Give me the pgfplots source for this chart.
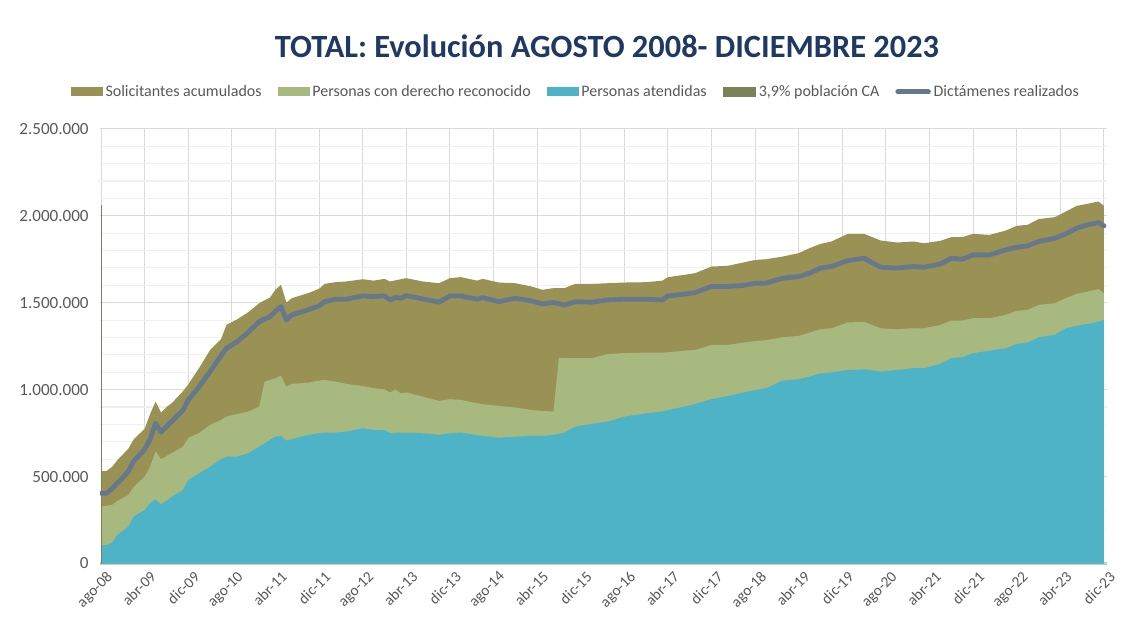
\documentclass[border=0pt]{standalone}
\usepackage{pgfplots}
\pgfplotsset{compat=1.18}
\usepackage{fontspec}
\setmainfont{Carlito}
\definecolor{solc}{HTML}{9A9155}
\definecolor{derc}{HTML}{A7B97F}
\definecolor{atec}{HTML}{4FB3C8}
\definecolor{pobc}{HTML}{7A8057}
\definecolor{dicc}{HTML}{66788C}
\definecolor{titc}{HTML}{1F3864}
\definecolor{txtc}{HTML}{595959}
\definecolor{gridc}{HTML}{D9D9D9}
\definecolor{mgridc}{HTML}{F0F0F0}
\definecolor{axc}{HTML}{BACFD5}
\begin{document}
\begin{tikzpicture}
\path[use as bounding box, fill=white] (0pt,0pt) rectangle (846pt,468.75pt);
\node[font=\fontsize{24.3}{28}\selectfont\bfseries, text=titc] at (455.25pt,434.25pt) {TOTAL: Evolución AGOSTO 2008- DICIEMBRE 2023};
\begin{axis}[
  at={(75pt,46.125pt)}, anchor=south west,
  scale only axis, width=755pt, height=326pt,
  xmin=-0.2, xmax=184.5, ymin=0, ymax=2500,
  axis lines*=left,
  y axis line style={draw=none},
  x axis line style={draw=axc, line width=1.6pt},
  major tick length=0pt, minor tick length=0pt,
  xtick={0,8,...,184},
  xticklabels={ago-08,abr-09,dic-09,ago-10,abr-11,dic-11,ago-12,abr-13,dic-13,ago-14,abr-15,dic-15,ago-16,abr-17,dic-17,ago-18,abr-19,dic-19,ago-20,abr-21,dic-21,ago-22,abr-23,dic-23},
  ytick={0,500,...,2500},
  yticklabels={0,500.000,1.000.000,1.500.000,2.000.000,2.500.000},
  minor y tick num=4,
  xmajorgrids, ymajorgrids, yminorgrids,
  major grid style={draw=gridc, line width=0.8pt},
  minor grid style={draw=mgridc, line width=0.8pt},
  yticklabel style={font=\fontsize{12.8}{14}\selectfont, text=txtc, xshift=-5pt},
  xticklabel style={font=\fontsize{11.5}{13}\selectfont, text=txtc, rotate=45, anchor=north east, inner sep=1pt, yshift=-5pt},
  legend columns=5,
  legend style={at={(0.473,1.085)}, anchor=center, draw=none, fill=none,
    font=\fontsize{12}{14}\selectfont, text=txtc,
    /tikz/every even column/.append style={column sep=10pt}},
  legend cell align=left,
]
\addplot[fill=solc, draw=none, area legend,
  legend image code/.code={\fill[solc] (0pt,-3.4pt) rectangle (24pt,3.4pt);}]
coordinates {
(0,532) (1,532) (2,555) (3,595) (5,660) (6,715) (8,775) (9,860) (10,931) (11,868) (12,900) (13,923)
(15,990) (16,1030) (18,1125) (20,1228) (22,1290) (23,1372) (25,1405) (27,1445) (29,1497) (31,1530)
(32,1575) (33,1603) (34,1501) (35,1526) (38,1555) (40,1580) (41,1608) (43,1618) (45,1622) (48,1635)
(50,1627) (52,1637) (53,1622) (55,1635) (56,1641) (59,1622) (62,1612) (64,1641) (66,1647) (69,1627)
(70,1637) (73,1616) (76,1612) (79,1593) (81,1574) (83,1584) (85,1584) (87,1608) (90,1608) (93,1612)
(96,1616) (100,1618) (103,1627) (104,1647) (107,1660) (109,1670) (112,1708) (115,1712) (120,1746)
(122,1750) (125,1765) (128,1785) (130,1814) (132,1838) (134,1852) (137,1896) (140,1896) (143,1858)
(146,1846) (149,1852) (151,1842) (154,1856) (156,1877) (158,1877) (160,1896) (163,1890) (166,1915)
(168,1942) (170,1948) (172,1981) (175,1992) (177,2024) (179,2057) (181,2069) (183,2082) (184,2057)
} \closedcycle;
\addlegendentry{Solicitantes acumulados}
\addplot[fill=derc, draw=none, area legend,
  legend image code/.code={\fill[derc] (0pt,-3.4pt) rectangle (24pt,3.4pt);}]
coordinates {
(0,327) (2,337) (3,360) (5,394) (6,442) (8,500) (9,557) (10,645) (11,600) (13,636) (15,672) (16,722)
(18,751) (20,797) (22,826) (23,845) (25,860) (27,874) (29,902) (30,1046) (32,1065) (33,1079) (34,1017)
(35,1033) (38,1040) (40,1052) (41,1056) (43,1046) (45,1033) (48,1021) (50,1008) (52,1002) (53,983)
(54,1000) (55,979) (56,983) (59,960) (62,935) (64,945) (66,941) (69,922) (70,916) (73,906) (76,897)
(79,883) (81,877) (83,874) (84,1184) (85,1181) (87,1181) (90,1181) (93,1204) (96,1210) (100,1213)
(103,1213) (104,1215) (107,1224) (109,1228) (112,1257) (115,1257) (120,1280) (122,1284) (125,1301)
(128,1309) (130,1328) (132,1347) (134,1353) (137,1386) (140,1390) (143,1353) (146,1347) (149,1353)
(151,1353) (154,1372) (156,1397) (158,1397) (160,1411) (163,1411) (166,1430) (168,1453) (170,1459)
(172,1487) (175,1497) (177,1526) (179,1551) (181,1564) (183,1578) (184,1555)
} \closedcycle;
\addlegendentry{Personas con derecho reconocido}
\addplot[fill=atec, draw=none, area legend,
  legend image code/.code={\fill[atec] (0pt,-3.4pt) rectangle (24pt,3.4pt);}]
coordinates {
(0,106) (1,106) (2,118) (3,165) (5,212) (6,270) (8,308) (9,348) (10,369) (11,340) (13,384) (15,423)
(16,480) (18,519) (20,557) (22,600) (23,615) (25,615) (27,634) (29,672) (31,711) (32,730) (33,734)
(34,707) (35,715) (38,740) (40,749) (41,753) (43,753) (45,759) (48,778) (50,768) (52,768) (53,749)
(55,753) (59,749) (62,740) (64,749) (66,753) (69,738) (70,734) (73,724) (76,730) (79,734) (81,734)
(83,740) (85,753) (87,787) (90,803) (93,816) (96,845) (100,864) (103,874) (104,883) (107,902)
(109,918) (112,945) (115,964) (120,998) (122,1008) (125,1052) (128,1060) (130,1075) (132,1094)
(134,1098) (137,1113) (140,1117) (143,1104) (146,1113) (149,1123) (151,1123) (154,1148) (156,1181)
(158,1186) (160,1210) (163,1224) (166,1238) (168,1263) (170,1271) (172,1301) (175,1315) (177,1353)
(179,1367) (181,1378) (183,1391) (184,1401)
} \closedcycle;
\addlegendentry{Personas atendidas}
\addplot[draw=pobc, line width=1.1pt,
  legend image code/.code={\fill[pobc] (0pt,-3.4pt) rectangle (24pt,3.4pt);}]
coordinates {(0.1,0) (0.1,2063)};
\addlegendentry{3,9\% población CA}
\addplot[draw=dicc, line width=3.6pt, line join=round, line cap=round,
  legend image code/.code={\draw[dicc, line width=3.6pt, line cap=round] (1.5pt,0pt) -- (24.5pt,0pt);}]
coordinates {
(0,404) (1,404) (2,430) (4,495) (5,530) (6,590) (8,655) (9,715) (10,807) (11,755) (13,820) (15,880)
(16,941) (18,1017) (20,1104) (22,1195) (23,1238) (25,1276) (27,1330) (29,1391) (31,1420) (32,1450)
(33,1478) (34,1401) (35,1430) (38,1459) (40,1482) (41,1506) (43,1520) (45,1520) (48,1539) (50,1535)
(52,1539) (53,1516) (54,1530) (55,1526) (56,1541) (59,1522) (62,1503) (64,1539) (66,1539) (69,1520)
(70,1529) (73,1506) (76,1526) (79,1510) (81,1493) (83,1501) (85,1487) (87,1506) (90,1503) (93,1516)
(96,1520) (100,1520) (103,1516) (104,1539) (107,1549) (109,1558) (112,1593) (115,1593) (118,1600)
(120,1612) (122,1612) (125,1641) (128,1650) (130,1670) (132,1699) (134,1708) (137,1742) (140,1756)
(143,1704) (146,1699) (149,1708) (151,1704) (154,1723) (156,1756) (158,1750) (160,1775) (163,1775)
(166,1804) (168,1819) (170,1827) (172,1852) (175,1871) (177,1896) (179,1929) (181,1948) (183,1961)
(184,1942)
};
\addlegendentry{Dictámenes realizados}
\end{axis}
\end{tikzpicture}
\end{document}
